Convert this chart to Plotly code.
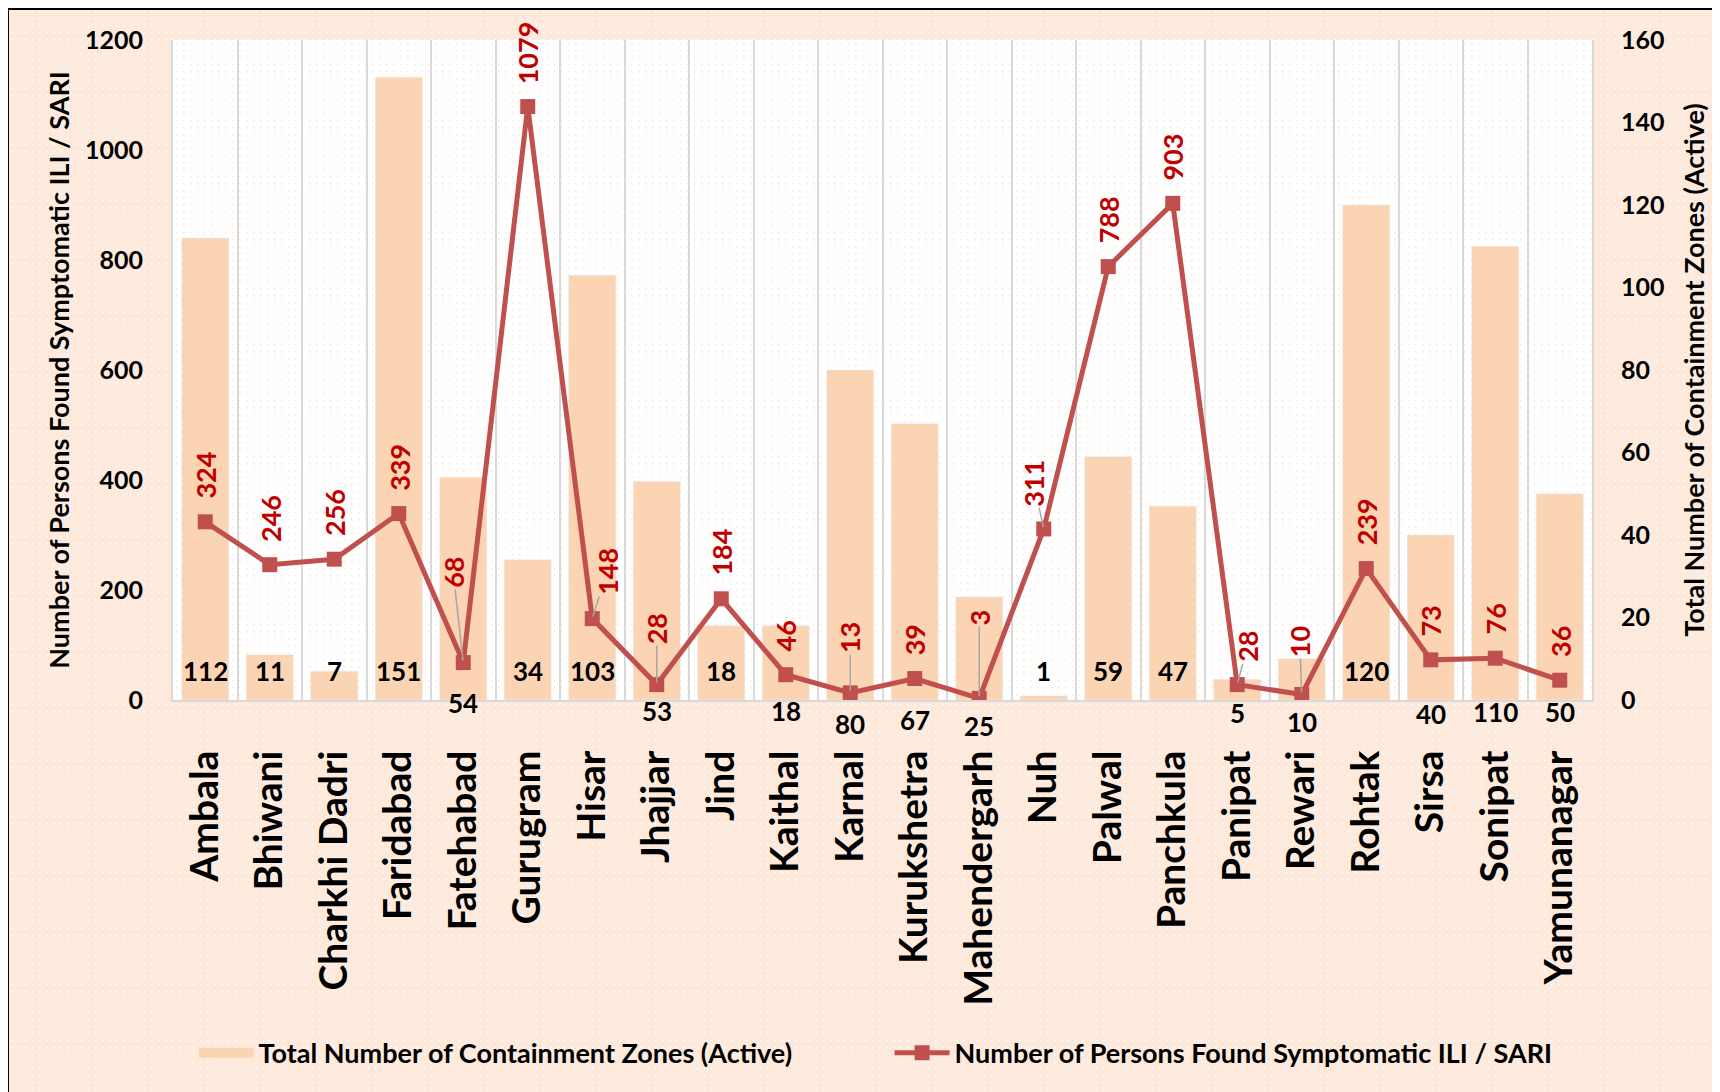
import base64
import plotly.graph_objects as go

districts = ["Ambala", "Bhiwani", "Charkhi Dadri", "Faridabad", "Fatehabad", "Gurugram",
             "Hisar", "Jhajjar", "Jind", "Kaithal", "Karnal", "Kurukshetra", "Mahendergarh",
             "Nuh", "Palwal", "Panchkula", "Panipat", "Rewari", "Rohtak", "Sirsa", "Sonipat",
             "Yamunanagar"]
containment_zones = [112, 11, 7, 151, 54, 34, 103, 53, 18, 18, 80, 67, 25, 1, 59, 47, 5, 10,
                     120, 40, 110, 50]
ili_sari = [324, 246, 256, 339, 68, 1079, 148, 28, 184, 46, 13, 39, 3, 311, 788, 903, 28, 10,
            239, 73, 76, 36]

zones_name = "Total Number of Containment Zones (Active)"
ili_name = "Number of Persons Found Symptomatic ILI / SARI"

# label placement (pixels) -- styling only
zone_label_dy = [-29, -29, -29, -29, 3, -29, -29, 11, -29, 11, 24, 20, 26, -29, -29, -29, 13,
                 22, -29, 14, 12, 12]
ili_label_override = {  # district: (ax, ay, leader)
    "Fatehabad": (-10, -90, True),
    "Hisar": (15, -47, True),
    "Jhajjar": (0, -56, True),
    "Karnal": (0, -55, True),
    "Mahendergarh": (0, -81, True),
    "Nuh": (-10, -46, True),
    "Panipat": (10, -38, True),
    "Rewari": (-2, -53, True),
}

FONT = "Lato"
BAR_C = "#FBD4B4"
LINE_C = "#C0504D"
LABEL_RED = "#C00000"
PEACH = "#FDEADC"
GRID = "#D9D9D9"

W, H = 1720, 1092
ML, MR, MT, MB = 165, 136, 32, 400
PW, PH = W - ML - MR, H - MT - MB


def dots_svg(w, h, bg, dot):
    svg = (f'<svg xmlns="http://www.w3.org/2000/svg" width="{w}" height="{h}" '
           f'viewBox="0 0 {w} {h}" preserveAspectRatio="none">'
           f'<defs><pattern id="p" width="7" height="7" patternUnits="userSpaceOnUse">'
           f'<rect width="7" height="7" fill="{bg}"/>'
           f'<rect x="3" y="3" width="1.4" height="1.4" fill="{dot}"/></pattern></defs>'
           f'<rect width="{w}" height="{h}" fill="url(#p)"/></svg>')
    return "data:image/svg+xml;base64," + base64.b64encode(svg.encode()).decode()


fig = go.Figure()
fig.add_trace(go.Bar(
    x=districts, y=containment_zones, name=zones_name, marker_color=BAR_C,
    yaxis="y", showlegend=False, hoverinfo="x+y"))
# legend proxy for the bars (wide swatch as in the original)
fig.add_trace(go.Scatter(
    x=[None], y=[None], name=zones_name, mode="lines",
    line=dict(color=BAR_C, width=17), yaxis="y", hoverinfo="skip"))
fig.add_trace(go.Scatter(
    x=districts, y=ili_sari, name=ili_name, mode="lines+markers",
    line=dict(color=LINE_C, width=5), marker=dict(symbol="square", size=15, color=LINE_C),
    yaxis="y2"))

ann = []
for d, v, dy in zip(districts, containment_zones, zone_label_dy):
    ann.append(dict(x=d, y=0, xref="x", yref="y", text=str(v), showarrow=False,
                    yshift=-dy, yanchor="middle", xanchor="center",
                    font=dict(family=FONT, size=26, color="black", weight="bold")))
for d, v in zip(districts, ili_sari):
    n = len(str(v))
    ax, ay, leader = ili_label_override.get(d, (0, -(24 + 7.5 * n), False))
    ann.append(dict(x=d, y=v, xref="x", yref="y2", text=str(v), textangle=-90,
                    showarrow=True, arrowhead=0, arrowwidth=1.5,
                    arrowcolor="#A6A6A6" if leader else "rgba(0,0,0,0)",
                    ax=ax, ay=ay, standoff=2,
                    font=dict(family=FONT, size=27, color=LABEL_RED, weight="bold")))

fig.update_layout(
    width=W, height=H,
    margin=dict(l=ML, r=MR, t=MT, b=MB, autoexpand=False),
    paper_bgcolor=PEACH, plot_bgcolor="white",
    font=dict(family=FONT, color="black"),
    bargap=0.27,
    showlegend=True,
    legend=dict(orientation="h", x=0.0145, y=-0.535, xanchor="left", yanchor="middle",
                entrywidth=626, entrywidthmode="pixels", itemwidth=55,
                bgcolor="rgba(0,0,0,0)",
                font=dict(family=FONT, size=27, color="black", weight="bold"),
                traceorder="normal"),
    xaxis=dict(type="category", tickangle=-90, tickson="boundaries", showgrid=True,
               gridcolor=GRID, gridwidth=2, showline=True, linecolor=GRID, linewidth=2,
               ticks="", ticklabelstandoff=33, automargin=False,
               tickfont=dict(family=FONT, size=39, color="black", weight="bold"),
               range=[-0.5, len(districts) - 0.5]),
    yaxis=dict(side="right", range=[0, 160], dtick=20, showgrid=False, zeroline=False,
               showline=True, linecolor=GRID, linewidth=2, ticks="", ticklabelstandoff=22,
               automargin=False,
               tickfont=dict(family=FONT, size=25, color="black", weight="bold"),
               title=dict(text=zones_name, standoff=22,
                          font=dict(family=FONT, size=27, color="black", weight="bold"))),
    yaxis2=dict(side="left", overlaying="y", range=[0, 1200], dtick=200, showgrid=False,
                zeroline=False, showline=True, linecolor=GRID, linewidth=2, ticks="",
                ticklabelstandoff=23, automargin=False,
                tickfont=dict(family=FONT, size=25, color="black", weight="bold"),
                title=dict(text=ili_name, standoff=8,
                           font=dict(family=FONT, size=27, color="black", weight="bold"))),
    annotations=ann,
    images=[
        dict(source=dots_svg(W, H, PEACH, "#FFFFFF"), xref="paper", yref="paper",
             x=-ML / PW, y=1 + MT / PH, sizex=W / PW, sizey=H / PH,
             xanchor="left", yanchor="top", sizing="stretch", layer="below"),
        dict(source=dots_svg(PW, PH, "#FFFFFF", "#FCE4D4"), xref="paper", yref="paper",
             x=0, y=1, sizex=1, sizey=1,
             xanchor="left", yanchor="top", sizing="stretch", layer="below"),
    ],
    shapes=[
        dict(type="rect", xref="paper", yref="paper", x0=-0.1163, y0=-0.62, x1=1.12, y1=1.047,
             fillcolor="rgba(0,0,0,0)", line=dict(color="black", width=2), layer="above"),
    ],
)

fig.write_html("out.html")
